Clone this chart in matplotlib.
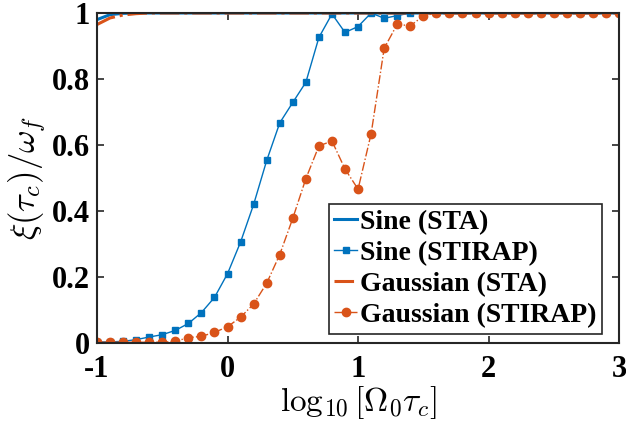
import numpy as np
import matplotlib.pyplot as plt

# log10 of Omega0*tau_c, step 0.1
x = np.round(np.arange(-1.0, 3.0001, 0.1), 2)

sine_sta = [0.980, 0.995, 0.999] + [1.0] * 38
sine_stirap = [0.003, 0.003, 0.005, 0.010, 0.018, 0.025, 0.038, 0.059, 0.092, 0.138,
               0.210, 0.306, 0.420, 0.553, 0.667, 0.729, 0.790, 0.926, 0.997, 0.941,
               0.959, 1.000, 0.984, 0.992, 1.000, 1.000] + [1.0] * 15
gauss_sta = [0.965, 0.985, 0.994, 0.998] + [1.0] * 37
gauss_stirap = [0.002, 0.002, 0.002, 0.002, 0.002, 0.002, 0.005, 0.016, 0.020, 0.032,
                0.049, 0.078, 0.118, 0.181, 0.268, 0.378, 0.498, 0.597, 0.612, 0.527,
                0.466, 0.634, 0.893, 0.966, 0.961, 0.991] + [1.0] * 15

blue = '#0072BD'
orange = '#D95319'

plt.rcParams['font.family'] = ['Liberation Serif', 'DejaVu Serif']
plt.rcParams['mathtext.fontset'] = 'cm'

fig = plt.figure(figsize=(6.26, 4.26), dpi=100)
ax = fig.add_axes([0.155, 0.195, 0.834, 0.7745])

ax.plot(x, sine_sta, color=blue, lw=2.2, label='Sine (STA)')
ax.plot(x, sine_stirap, color=blue, lw=1.0, marker='s', ms=5, label='Sine (STIRAP)')
ax.plot(x, gauss_sta, color=orange, lw=2.2, ls='-.', label='Gaussian (STA)')
ax.plot(x, gauss_stirap, color=orange, lw=1.0, ls='-.', marker='o', ms=6,
        label='Gaussian (STIRAP)')

ax.set_xlim(-1, 3)
ax.set_ylim(0, 1)
ax.set_xticks([-1, 0, 1, 2, 3])
ax.set_xticklabels(['-1', '0', '1', '2', '3'])
ax.set_yticks([0, 0.2, 0.4, 0.6, 0.8, 1])
ax.set_yticklabels(['0', '0.2', '0.4', '0.6', '0.8', '1'])
ax.tick_params(direction='in', top=True, right=True, length=5, width=1.2,
               color='#262626', labelsize=22)
ax.tick_params(axis='x', pad=9)
ax.tick_params(axis='y', pad=5)
for lab in ax.get_xticklabels() + ax.get_yticklabels():
    lab.set_fontweight('bold')
for s in ax.spines.values():
    s.set_color('#262626')
    s.set_linewidth(1.5)

ax.set_xlabel(r'$\log_{10}[\Omega_0\tau_c]$', fontsize=24, labelpad=0)
ax.set_ylabel(r'$\xi(\tau_c)/\omega_f$', fontsize=25, labelpad=2)

leg = ax.legend(loc='lower right', bbox_to_anchor=(0.978, 0.011),
                prop={'weight': 'bold', 'size': 20}, handlelength=0.8,
                handletextpad=0.12, labelspacing=0.2, borderpad=0.2,
                borderaxespad=0.2, fancybox=False, edgecolor='#262626',
                framealpha=1)
leg.get_frame().set_linewidth(1.2)

plt.savefig('out.png', dpi=100)
plt.close('all')
